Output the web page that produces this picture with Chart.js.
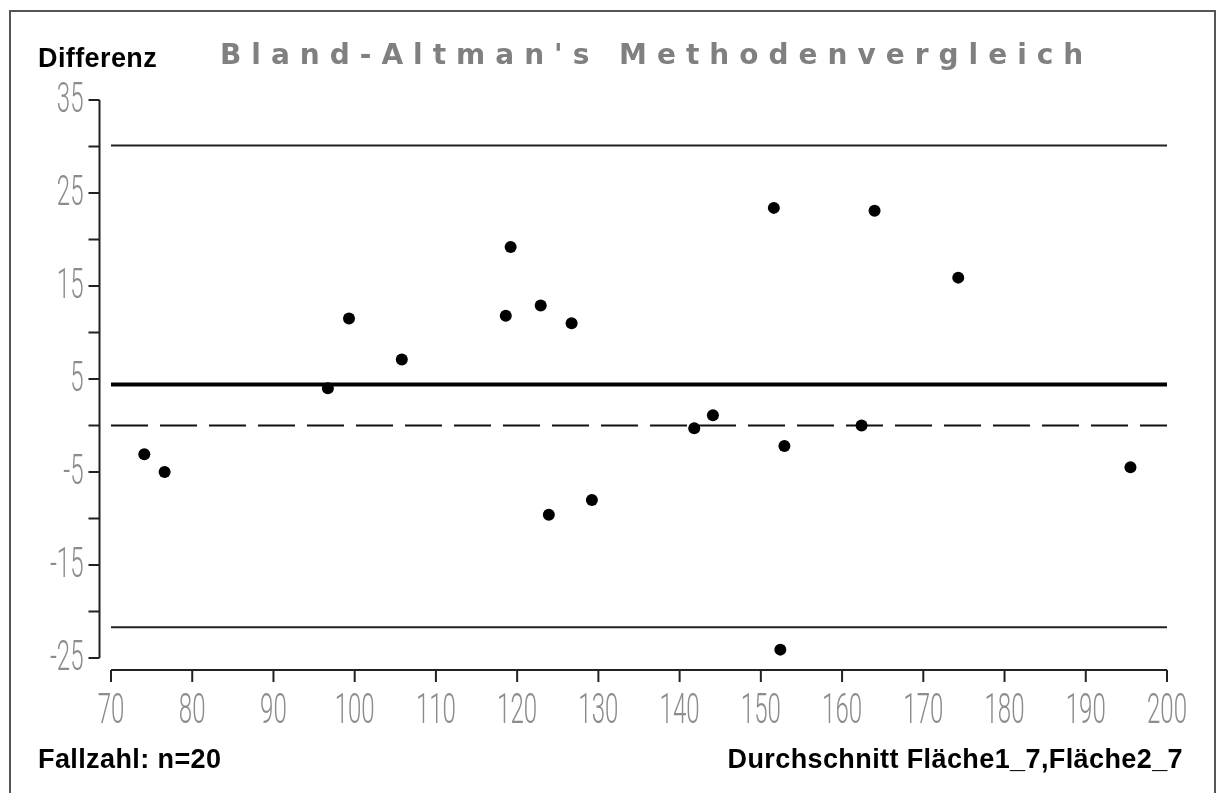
<!DOCTYPE html>
<html>
<head>
<meta charset="utf-8">
<script src="https://cdn.jsdelivr.net/npm/chart.js@4.4.1/dist/chart.umd.min.js"></script>
<style>
    html, body { margin: 0; padding: 0; background: #fff; }
    #wrap { width: 1218px; height: 793px; position: relative; }
</style>
</head>
<body>
<div id="wrap"><canvas id="baChart" width="1218" height="793"></canvas></div>
<script>
// Mittelwert der beiden Messungen (x) und deren Differenz (y)
const meanValues = [74.1, 76.6, 96.7, 99.3, 105.8, 118.6, 119.2, 122.9, 126.7, 123.9,
                    129.2, 141.8, 144.1, 151.6, 152.9, 152.4, 162.4, 164.0, 174.3, 195.5];
const diffValues = [-3.1, -5.0, 4.0, 11.5, 7.1, 11.8, 19.2, 12.9, 11.0, -9.6,
                    -8.0, -0.3, 1.1, 23.4, -2.2, -24.1, 0.0, 23.1, 15.9, -4.5];

// Mittlere Differenz und Übereinstimmungsgrenzen
const meanDiff = 4.4;
const upperLimit = 30.1;
const lowerLimit = -21.7;

const xTicks = [70, 80, 90, 100, 110, 120, 130, 140, 150, 160, 170, 180, 190, 200];
const yTicks = [35, 30, 25, 20, 15, 10, 5, 0, -5, -10, -15, -20, -25];
const yLabels = [35, 25, 15, 5, -5, -15, -25];

const titleText = "Bland-Altman's Methodenvergleich";
const yTitle = 'Differenz';
const countText = 'Fallzahl: n=' + meanValues.length;
const xTitle = 'Durchschnitt Fläche1_7,Fläche2_7';

const points = meanValues.map((x, i) => ({ x: x, y: diffValues[i] }));
const hLine = (y) => [{ x: xTicks[0], y: y }, { x: xTicks[xTicks.length - 1], y: y }];

// schmale, graue Achsenbeschriftung
function narrowText(ctx, text, x, y, align) {
    ctx.save();
    ctx.translate(x, y);
    ctx.scale(0.56, 1);
    ctx.textAlign = align;
    ctx.fillText(text, 0, 0);
    ctx.restore();
}

const frameAndAxes = {
    id: 'frameAndAxes',
    beforeDraw(chart) {
        const ctx = chart.ctx;
        ctx.save();
        ctx.fillStyle = '#fff';
        ctx.fillRect(0, 0, chart.width, chart.height);
        ctx.strokeStyle = '#555';
        ctx.lineWidth = 2;
        ctx.strokeRect(10, 11, 1205, 800);
        ctx.restore();
    },
    afterDraw(chart) {
        const ctx = chart.ctx;
        const xs = chart.scales.x, ys = chart.scales.y;
        const area = chart.chartArea;
        const axisX = area.left - 11.5;
        const axisY = area.bottom + 12;

        ctx.save();
        ctx.strokeStyle = '#222';
        ctx.lineWidth = 2;

        // y-Achse
        ctx.beginPath();
        ctx.moveTo(axisX, ys.getPixelForValue(35));
        ctx.lineTo(axisX, ys.getPixelForValue(-25));
        yTicks.forEach(v => {
            const py = ys.getPixelForValue(v);
            ctx.moveTo(axisX - 11, py);
            ctx.lineTo(axisX, py);
        });
        ctx.stroke();

        // x-Achse
        ctx.beginPath();
        ctx.moveTo(xs.getPixelForValue(70), axisY);
        ctx.lineTo(xs.getPixelForValue(200), axisY);
        xTicks.forEach(v => {
            const px = xs.getPixelForValue(v);
            ctx.moveTo(px, axisY);
            ctx.lineTo(px, axisY + 12);
        });
        ctx.stroke();

        ctx.fillStyle = '#8c8c8c';
        ctx.font = '300 43px Roboto, "DejaVu Sans"';
        ctx.textBaseline = 'middle';
        yLabels.forEach(v => narrowText(ctx, String(v), axisX - 16, ys.getPixelForValue(v) + 1, 'right'));
        xTicks.forEach(v => narrowText(ctx, String(v), xs.getPixelForValue(v), axisY + 42, 'center'));

        // Beschriftungen
        ctx.textBaseline = 'alphabetic';
        ctx.textAlign = 'left';
        ctx.fillStyle = '#000';
        ctx.font = 'bold 27px "Liberation Sans", Arial';
        ctx.letterSpacing = '0.4px';
        ctx.fillText(yTitle, 38, 67);
        ctx.fillText(countText, 38, 768);
        ctx.textAlign = 'right';
        ctx.fillText(xTitle, 1183, 768);

        ctx.textAlign = 'left';
        ctx.fillStyle = '#808080';
        ctx.font = 'bold 28px "DejaVu Sans"';
        ctx.letterSpacing = '10px';
        ctx.fillText(titleText, 220, 64);
        ctx.restore();
    }
};

new Chart(document.getElementById('baChart'), {
    type: 'scatter',
    data: {
        datasets: [
            { type: 'line', data: hLine(upperLimit), borderColor: '#222', borderWidth: 2, pointRadius: 0, order: 2 },
            { type: 'line', data: hLine(meanDiff), borderColor: '#000', borderWidth: 4, pointRadius: 0, order: 2 },
            { type: 'line', data: hLine(0), borderColor: '#111', borderWidth: 2, borderDash: [37, 12], pointRadius: 0, order: 2 },
            { type: 'line', data: hLine(lowerLimit), borderColor: '#222', borderWidth: 2, pointRadius: 0, order: 2 },
            { data: points, backgroundColor: '#000', borderWidth: 0, pointRadius: 6, order: 1 }
        ]
    },
    options: {
        responsive: false,
        animation: false,
        events: [],
        layout: { padding: { left: 111, right: 51, top: 100, bottom: 135 } },
        plugins: { legend: { display: false }, tooltip: { enabled: false } },
        scales: {
            x: { type: 'linear', min: 70, max: 200, display: false },
            y: { type: 'linear', min: -25, max: 35, display: false }
        }
    },
    plugins: [frameAndAxes]
});
</script>
</body>
</html>
